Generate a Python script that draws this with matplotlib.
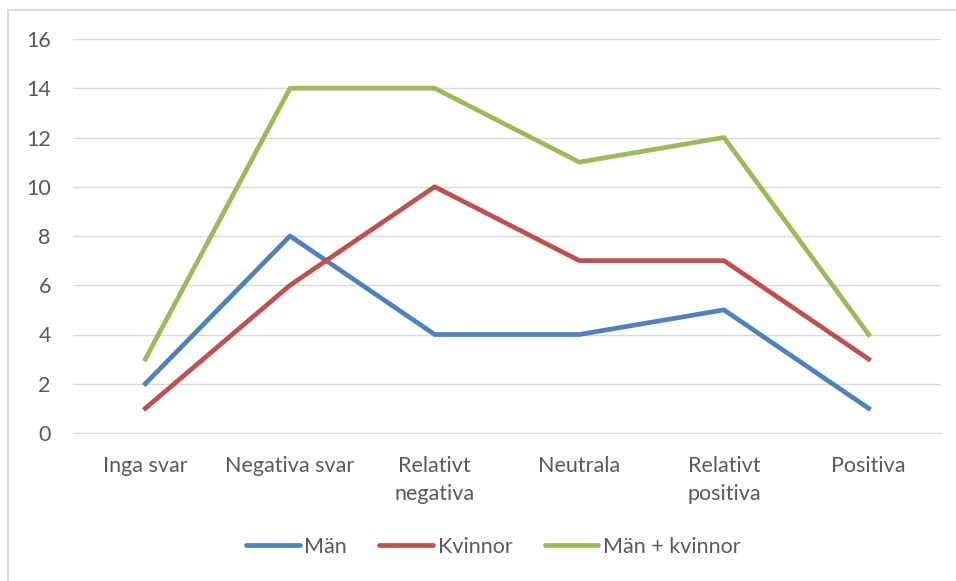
import matplotlib.pyplot as plt
from matplotlib.lines import Line2D

categories = ["Inga svar", "Negativa svar", "Relativt\nnegativa", "Neutrala", "Relativt\npositiva", "Positiva"]
man = [2, 8, 4, 4, 5, 1]
kvinnor = [1, 6, 10, 7, 7, 3]
totalt = [3, 14, 14, 11, 12, 4]

plt.rcParams["font.family"] = ["Lato", "DejaVu Sans"]

W, H = 956, 581
fig = plt.figure(figsize=(W / 100, H / 100), dpi=100)
ax = fig.add_axes([73 / W, 1 - 433 / H, 868 / W, 394 / H])

x = list(range(len(categories)))
ax.plot(x, man, color="#4F81BD", lw=3.4, label="Män")
ax.plot(x, kvinnor, color="#C0504D", lw=3.4, label="Kvinnor")
ax.plot(x, totalt, color="#9BBB59", lw=3.4, label="Män + kvinnor")

ax.set_xlim(-0.5, len(categories) - 0.5)
ax.set_ylim(0, 16)
ax.set_yticks(range(0, 17, 2))
ax.set_xticks(x)
ax.set_xticklabels(categories, linespacing=1.5)
ax.tick_params(length=0, labelsize=15.5, colors="#595959")
ax.tick_params(axis="x", pad=16.5)
ax.tick_params(axis="y", pad=16)
ax.grid(axis="y", color="#D9D9D9", lw=1)
ax.set_axisbelow(True)
for s in ["top", "right", "left"]:
    ax.spines[s].set_visible(False)
ax.spines["bottom"].set_color("#D9D9D9")

leg = fig.legend(loc="center", bbox_to_anchor=(0.516, 1 - 547 / H), ncol=3, frameon=False,
                 fontsize=15.5, handlelength=2.5, handletextpad=0.2, columnspacing=1.5,
                 labelcolor="#595959")
for h in leg.get_lines():
    h.set_solid_capstyle("round")

# chart border (top and left edges visible in the crop)
fig.add_artist(Line2D([8 / W, 1], [1 - 10 / H, 1 - 10 / H], transform=fig.transFigure,
                      color="#D9D9D9", lw=1.5))
fig.add_artist(Line2D([8 / W, 8 / W], [0, 1 - 10 / H], transform=fig.transFigure,
                      color="#D9D9D9", lw=1.5))

fig.savefig("out.png", dpi=100)
